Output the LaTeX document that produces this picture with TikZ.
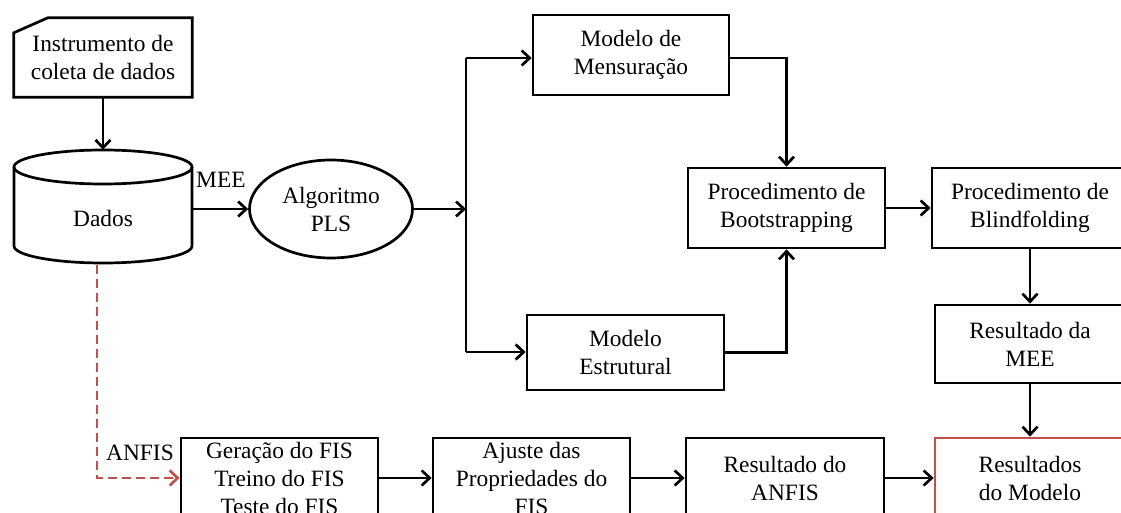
\documentclass[tikz,border=0pt]{standalone}
\usepackage{fontspec}
\setmainfont{Liberation Serif}
\usetikzlibrary{arrows.meta,shapes.geometric}
\definecolor{offred}{RGB}{192,80,77}
\begin{document}
\begin{tikzpicture}[x=1pt,y=-1pt,
  every node/.style={font=\fontsize{23.4}{28}\selectfont, align=center, inner sep=0pt},
  box/.style={draw, line width=2.7pt, minimum width=196pt, minimum height=80pt},
  arr/.style={line width=2.7pt, -{Straight Barb[length=8pt,width=15pt,line width=2.7pt]}},
  ln/.style={line width=2.7pt}]
\useasboundingbox (0,0) rectangle (1121,513);
\clip (0,0) rectangle (1121,513);
\fill[white] (0,0) rectangle (1121,513);

% instrument card
\node (inst) [minimum width=178pt, minimum height=79pt] at (103,57.5) {Instrumento de\\coleta de dados};
\draw[ln] (inst.south west) -- (inst.south east) -- (inst.north east) -- ([xshift=34pt]inst.north west) -- ([yshift=-15pt]inst.north west) -- cycle;

% cylinder
\node (dados) [minimum width=178pt, minimum height=114pt] at (103,207) {};
\node (dadostxt) at (103,218) {Dados};
\draw[ln] (14,167) arc[start angle=180, end angle=-180, x radius=89pt, y radius=17pt];
\draw[ln] (14,167) -- (14,246) arc[start angle=180, end angle=360, x radius=89pt, y radius=17pt] -- (192,167);

% PLS ellipse
\node (pls) [draw, ellipse, line width=2.7pt, minimum width=163pt, minimum height=98pt] at (331,209) {Algoritmo\\PLS};

% boxes
\node (mens) [box] at (631,55) {Modelo de\\Mensuração};
\node (boot) [box, minimum width=197pt] at (786.5,208) {Procedimento de\\Bootstrapping};
\node (estr) [box, minimum width=197pt, minimum height=75pt] at (625.5,352.5) {Modelo\\Estrutural};
\node (blind) [box] at (1030,208) {Procedimento de\\Blindfolding};
\node (rmee) [box, minimum width=190pt, minimum height=78pt] at (1030,344) {Resultado da\\MEE};
\node (model) [box, draw=offred, minimum width=190pt] at (1030,478) {Resultados\\do Modelo};
\node (ger) [box, minimum width=197pt] at (279.5,478) {Geração do FIS\\Treino do FIS\\Teste do FIS};
\node (aju) [box, minimum width=197pt] at (531.5,478) {Ajuste das\\Propriedades do\\FIS};
\node (ranf) [box, minimum width=198pt] at (785,478) {Resultado do\\ANFIS};

% junction
\coordinate (jtop) at (466,58);
\coordinate (jbot) at (466,352);

% connectors
\draw[arr] (inst.south) -- (dados.north);
\draw[arr] (dados.east |- pls.west) -- (pls.west);
\node (mee) [anchor=south west] at (196,188) {MEE};
\draw[arr] (pls.east) -- (pls.east -| jtop);
\draw[ln] (jtop) -- (jbot);
\draw[arr] (jtop) -- (jtop -| mens.west);
\draw[arr] (jbot) -- (jbot -| estr.west);
\draw[arr] (mens.east |- jtop) -| (boot.north);
\draw[arr] (estr.east) -| (boot.south);
\draw[arr] (boot.east) -- (blind.west);
\draw[arr] (blind.south) -- (rmee.north);
\draw[arr] (rmee.south) -- (model.north);
\draw[arr] (ger.east) -- (aju.west);
\draw[arr] (aju.east) -- (ranf.west);
\draw[arr] (ranf.east) -- (model.west);
\draw[arr, draw=offred, dash pattern=on 9pt off 5pt] (97,265) |- (ger.west);
\node (anfis) at (140,453) {ANFIS};
\end{tikzpicture}
\end{document}
